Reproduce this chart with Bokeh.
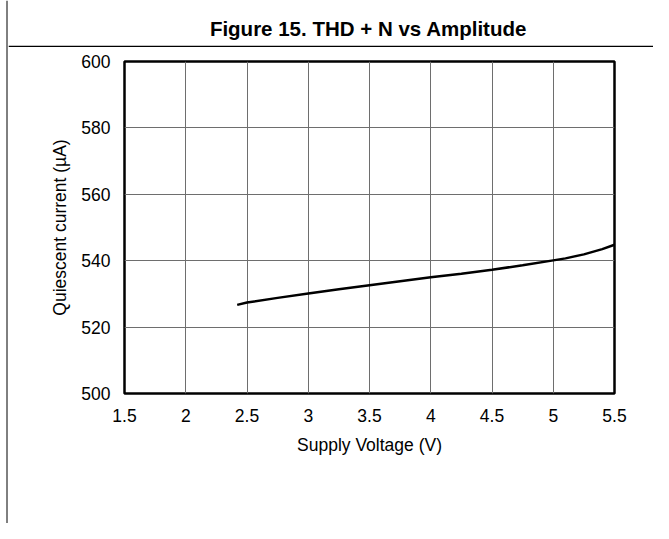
from bokeh.plotting import figure
from bokeh.models import Range1d, FixedTicker, Label, Span
from bokeh.layouts import row, column
from bokeh.embed import file_html
from bokeh.resources import INLINE

# ---- data ----
supply_voltage = [2.42, 2.5, 2.75, 3.0, 3.25, 3.5, 3.75, 4.0, 4.25, 4.5, 4.75, 5.0, 5.1, 5.25, 5.4, 5.5]
quiescent_current = [526.7, 527.4, 528.8, 530.1, 531.4, 532.6, 533.8, 535.0, 536.1, 537.3, 538.6, 540.1, 540.7, 541.9, 543.5, 544.8]

x_ticks = [1.5, 2, 2.5, 3, 3.5, 4, 4.5, 5, 5.5]
x_tick_labels = ["1.5", "2", "2.5", "3", "3.5", "4", "4.5", "5", "5.5"]
y_ticks = [500, 520, 540, 560, 580, 600]
y_tick_labels = ["500", "520", "540", "560", "580", "600"]

title_text = "Figure 15. THD + N vs Amplitude"
x_label = "Supply Voltage (V)"
y_label = "Quiescent current (\u00b5A)"

FONT = "Liberation Sans"

TOTAL_W, TOTAL_H = 653, 523
STRIP_W = 8
HEAD_H = 47
MAIN_W = TOTAL_W - STRIP_W
MAIN_H = TOTAL_H - HEAD_H


def no_align(f):
    if "frame_align" in f.properties():
        f.frame_align = False
    return f


def blank(width, height, xr, yr):
    f = figure(width=width, height=height, output_backend="svg", toolbar_location=None,
               x_range=xr, y_range=yr, x_axis_type=None, y_axis_type=None,
               min_border=0, min_border_left=0, min_border_right=0,
               min_border_top=0, min_border_bottom=0)
    f.outline_line_color = None
    f.grid.visible = False
    f.background_fill_color = "white"
    f.border_fill_color = "white"
    return no_align(f)


# left strip with the page's vertical rule
strip = blank(STRIP_W, TOTAL_H, Range1d(0, STRIP_W), Range1d(TOTAL_H, 0))
strip.add_layout(Span(location=6.5, dimension="height", line_color="black", line_width=1))

# header with title and rule under it
header = blank(MAIN_W, HEAD_H, Range1d(STRIP_W, TOTAL_W), Range1d(HEAD_H, 0))
header.add_layout(Label(x=368, y=28, text=title_text, text_font=FONT,
                        text_font_size="20.5px", text_font_style="bold",
                        text_align="center", text_baseline="middle", text_color="black"))
header.add_layout(Span(location=46, dimension="width", line_color="black", line_width=1.3))

# main chart
p = figure(width=MAIN_W, height=MAIN_H, output_backend="svg", toolbar_location=None,
           x_range=Range1d(1.5, 5.5), y_range=Range1d(500, 600),
           min_border_left=124 - STRIP_W, min_border_right=TOTAL_W - 614,
           min_border_top=61 - HEAD_H, min_border_bottom=TOTAL_H - 393)
no_align(p)

p.background_fill_color = "white"
p.border_fill_color = "white"
p.outline_line_color = "black"
p.outline_line_width = 2.5

for ax in (p.xaxis[0], p.yaxis[0]):
    ax.axis_line_color = None
    ax.major_tick_out = 0
    ax.major_tick_in = 0
    ax.minor_tick_out = 0
    ax.minor_tick_in = 0
    ax.major_label_text_font = FONT
    ax.major_label_text_font_size = "17.5px"
    ax.major_label_text_color = "black"
    ax.axis_label_text_font = FONT
    ax.axis_label_text_font_size = "17.5px"
    ax.axis_label_text_font_style = "normal"
    ax.axis_label_text_color = "black"

p.xaxis[0].ticker = FixedTicker(ticks=x_ticks)
p.yaxis[0].ticker = FixedTicker(ticks=y_ticks)
p.xaxis[0].major_label_overrides = {float(v): s for v, s in zip(x_ticks, x_tick_labels)}
p.yaxis[0].major_label_overrides = {float(v): s for v, s in zip(y_ticks, y_tick_labels)}
p.xaxis[0].axis_label = x_label
p.yaxis[0].axis_label = y_label
p.xaxis[0].major_label_standoff = 15
p.xaxis[0].axis_label_standoff = 10
p.yaxis[0].major_label_standoff = 14
p.yaxis[0].axis_label_standoff = 8

p.xgrid.grid_line_color = "#6e6e6e"
p.ygrid.grid_line_color = "#6e6e6e"
p.xgrid.grid_line_width = 1
p.ygrid.grid_line_width = 1

p.line(supply_voltage, quiescent_current, line_color="black", line_width=2.5)

layout = row(strip, column(header, p, spacing=0), spacing=0)

open("out.html", "w").write(file_html(layout, INLINE))
